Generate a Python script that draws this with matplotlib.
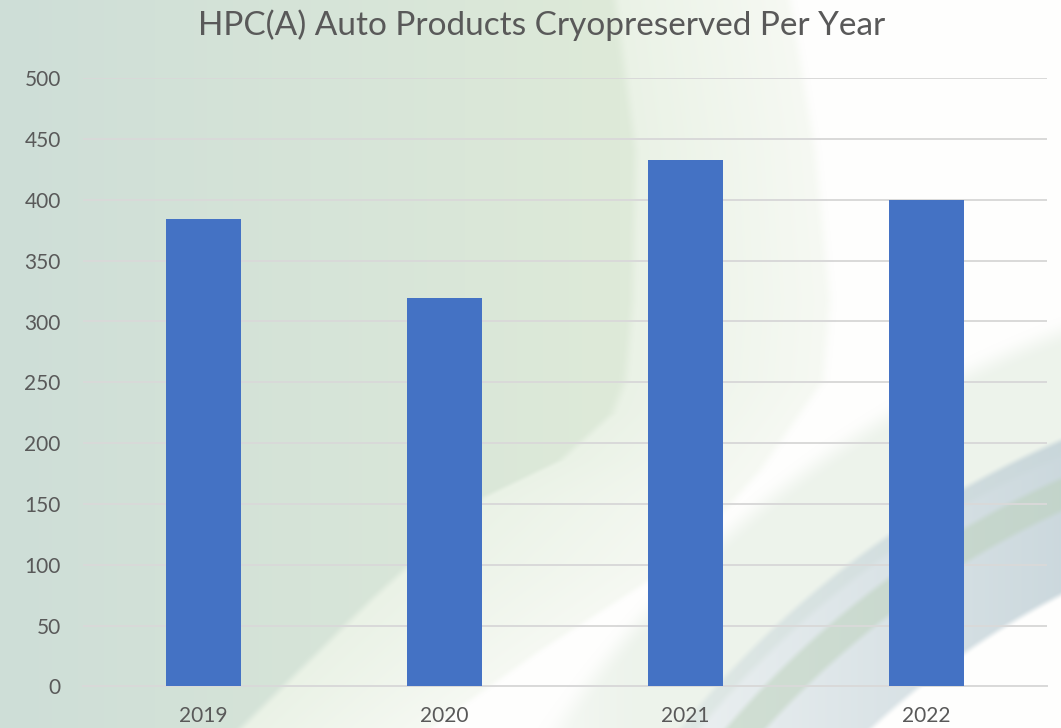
import numpy as np
import matplotlib
matplotlib.use("Agg")
import matplotlib.pyplot as plt

# ---- data ----
years = ["2019", "2020", "2021", "2022"]
products = [384, 319, 433, 400]
y_ticks = [0, 50, 100, 150, 200, 250, 300, 350, 400, 450, 500]
title = "HPC(A) Auto Products Cryopreserved Per Year"

W, H = 1061, 728
fig = plt.figure(figsize=(W / 100, H / 100), dpi=100)

# ---- decorative background ----
yy, xx = np.mgrid[0:H, 0:W].astype(float)


def smooth(t):
    t = np.clip(t, 0, 1)
    return t * t * (3 - 2 * t)


left_col = np.array([206, 222, 215]) / 255
mid_col = np.array([222, 234, 217]) / 255
light_col = np.array([234, 242, 230]) / 255
pale_col = np.array([246, 249, 243]) / 255
white_col = np.array([254, 254, 253]) / 255

tx = np.clip(xx / 620, 0, 1)[..., None]
img = left_col * (1 - tx) + mid_col * tx

ys = np.arange(H)
x1 = np.interp(ys, [0, 150, 300, 380, 413, 460, 497, 600, 728],
               [615, 635, 632, 625, 612, 560, 483, 370, 240])[:, None]
x2 = np.interp(ys, [0, 150, 300, 380, 470, 560, 650, 728],
               [790, 815, 830, 823, 760, 680, 540, 430])[:, None]
m1 = smooth((xx - x1) / 14 + 0.5)
m2 = smooth((xx - x2) / 14 + 0.5)[..., None]
# gradient inside the pale band between x1 and x2
frac = np.clip((xx - x1) / np.maximum(x2 - x1, 1), 0, 1)[..., None]
band_fill = light_col * (1 - frac) + pale_col * frac
img = img * (1 - m1[..., None]) + band_fill * m1[..., None]
img = img * (1 - m2) + white_col * m2

d = np.sqrt((xx - 1450) ** 2 + (yy - 1350) ** 2)
# light green fan
fan = (smooth((d - 975) / 10 + 0.5) * (1 - smooth((d - 1090) / 30 + 0.5)))
fan = fan * smooth((xx - 450) / 200)
fan_col = np.array([226, 236, 224]) / 255
a = (fan * 0.6)[..., None]
img = img * (1 - a) + fan_col * a
# blue-gray band
band = smooth((d - 850) / 8 + 0.5) * (1 - smooth((d - 990) / 8 + 0.5))
band_a = band * np.clip(0.35 + 0.5 * (xx - 700) / 360, 0, 0.85)
band_col = np.array([195, 210, 216]) / 255
a = band_a[..., None]
img = img * (1 - a) + band_col * a
# green stripe
stripe = smooth((d - 925) / 8 + 0.5) * (1 - smooth((d - 955) / 8 + 0.5))
stripe_col = np.array([186, 208, 184]) / 255
a = (stripe * 0.5)[..., None]
img = img * (1 - a) + stripe_col * a

bg = fig.add_axes([0, 0, 1, 1], zorder=-10)
bg.imshow(img, aspect="auto", extent=(0, W, H, 0), interpolation="bilinear")
bg.set_axis_off()

# ---- chart ----
ax = fig.add_axes([83 / W, 1 - 686.3 / H, (1047 - 83) / W, (686.3 - 78.3) / H])
ax.patch.set_alpha(0)
x = np.arange(len(years))
ax.bar(x, products, width=0.31, color="#4472C4", zorder=3)
ax.set_xlim(-0.5, len(years) - 0.5)
ax.set_ylim(0, 500)
ax.set_yticks(y_ticks)
ax.set_xticks(x)
ax.set_xticklabels(years)
ax.grid(axis="y", color="#d9d9d9", linewidth=1.4, zorder=0)
ax.set_axisbelow(True)
for s in ["top", "right", "left"]:
    ax.spines[s].set_visible(False)
ax.spines["bottom"].set_color("#d9d9d9")
ax.spines["bottom"].set_linewidth(1.4)
ax.tick_params(axis="both", length=0, labelcolor="#595959", labelsize=15)
ax.tick_params(axis="y", pad=16)
ax.tick_params(axis="x", pad=14)
for lab in ax.get_xticklabels() + ax.get_yticklabels():
    lab.set_family("Lato")

t = fig.text(541.5 / W, 1 - 35 / H, title, ha="center", va="baseline",
             color="#595959", fontsize=24, family="Lato")
fig.canvas.draw()
w = t.get_window_extent().width
t.set_fontsize(24 * 689 / w)

fig.savefig("out.png", dpi=100)
